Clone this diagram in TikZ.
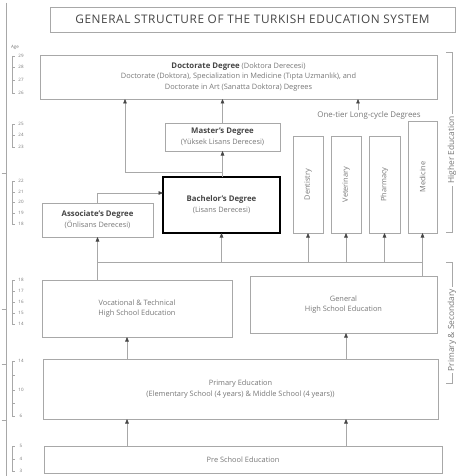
\documentclass[tikz,border=0pt]{standalone}
\usepackage{fontspec}
\setmainfont{Open Sans}
\usetikzlibrary{arrows.meta,calc}
\definecolor{ln}{HTML}{A8A8A8}
\definecolor{tx}{HTML}{787878}
\definecolor{dk}{HTML}{454545}
\newcommand{\hdtxt}[1]{{\fontsize{7.8}{10.8}\selectfont\bfseries\color{dk}#1}}
\begin{document}
\begin{tikzpicture}[x=1pt,y=-1pt,
  box/.style={draw=ln, line width=0.6pt, align=center, inner sep=0pt, outer sep=0pt, text=tx,
              font=\fontsize{7.4}{10.8}\selectfont},
  vbox/.style={box, rotate=90},
  arr/.style={draw=ln, line width=0.6pt, -{Triangle[length=4.5pt,width=3.6pt,color=dk]}},
  lnk/.style={draw=ln, line width=0.6pt},
  agelbl/.style={font=\fontsize{4.5}{5}\selectfont, text=tx, inner sep=0pt},
  side/.style={font=\fontsize{8.4}{10}\selectfont, text=tx, rotate=90, fill=white, inner sep=2pt}
]
\useasboundingbox (0,0) rectangle (466,476);
\fill[white] (0,0) rectangle (466,476);

% title
\node[draw=ln, line width=0.6pt, minimum width=405pt, minimum height=25pt, inner sep=0pt,
      font=\fontsize{11.8}{13}\selectfont\addfontfeatures{LetterSpace=5}, text=dk] (title) at (252.5,19.5)
      {GENERAL STRUCTURE OF THE TURKISH EDUCATION SYSTEM};

% boxes
\node[box, minimum width=397pt, minimum height=44pt] (doc) at (238.5,77)
  {\hdtxt{Doctorate Degree} (Doktora Derecesi)\\
   Doctorate (Doktora), Specialization in Medicine (Tıpta Uzmanlık), and\\
   Doctorate in Art (Sanatta Doktora) Degrees};
\node[box, minimum width=115pt, minimum height=28pt] (master) at (222.5,137)
  {\hdtxt{Master’s Degree}\\(Yüksek Lisans Derecesi)};
\node[box, draw=black, line width=1.5pt, minimum width=117pt, minimum height=56pt] (bach) at (221.5,205)
  {\hdtxt{Bachelor’s Degree}\\(Lisans Derecesi)};
\node[box, minimum width=111pt, minimum height=34pt] (assoc) at (97.5,220)
  {\hdtxt{Associate’s Degree}\\(Önlisans Derecesi)};

\node[vbox, minimum width=97pt, minimum height=30pt] (dent) at (308,184.5) {Dentistry};
\node[vbox, minimum width=97pt, minimum height=30pt] (vet) at (346,184.5) {Veterinary};
\node[vbox, minimum width=97pt, minimum height=31pt] (pharm) at (384.5,184.5) {Pharmacy};
\node[vbox, minimum width=112pt, minimum height=29pt] (med) at (422.5,177) {Medicine};
\node[font=\fontsize{7.9}{9}\selectfont, text=tx, inner sep=1pt] (lc) at (369,115.5) {One-tier Long-cycle Degrees};

\node[box, minimum width=190pt, minimum height=57pt] (voc) at (137,308.5)
  {Vocational \& Technical\\High School Education};
\node[box, minimum width=187pt, minimum height=57pt] (gen) at (343.5,304.5)
  {General\\High School Education};
\node[box, minimum width=395pt, minimum height=60pt] (prim) at (240.5,389)
  {Primary Education\\(Elementary School (4 years) \& Middle School (4 years))};
\node[box, minimum width=398pt, minimum height=27pt] (pre) at (243,459.5)
  {Pre School Education};

% connectors to doctorate
\draw[arr] (master.north) -- (master.north |- doc.south);
\draw[arr] ([xshift=-11pt]lc.north) -- ([xshift=-11pt]lc.north |- doc.south);
\coordinate (j) at (125,172);
\draw[arr] (j) -- (j |- doc.south);
\draw[lnk] (j) -- (j -| master.south);
\draw[arr] (bach.north -| master.south) -- (master.south);
\draw[arr] (assoc.north) |- ([yshift=12pt]bach.west);

% bus from high schools
\coordinate (bus) at (0,262);
\draw[lnk] (assoc.south |- voc.north) -- (assoc.south |- bus) -- (med.west |- bus) -- (med.west |- gen.north);
\draw[arr] (assoc.south |- bus) -- (assoc.south);
\draw[arr] (bach.south |- bus) -- (bach.south);
\draw[arr] (dent.west |- bus) -- (dent.west);
\draw[arr] (vet.west |- bus) -- (vet.west);
\draw[arr] (pharm.west |- bus) -- (pharm.west);
\draw[arr] (med.west |- bus) -- (med.west);

% lower arrows
\draw[arr] ([xshift=-10pt]voc.south |- prim.north) -- ([xshift=-10pt]voc.south);
\draw[arr] ([xshift=2.5pt]gen.south |- prim.north) -- ([xshift=2.5pt]gen.south);
\draw[arr] ([xshift=-10pt]voc.south |- pre.north) -- ([xshift=-10pt]voc.south |- prim.south);
\draw[arr] ([xshift=2.5pt]gen.south |- pre.north) -- ([xshift=2.5pt]gen.south |- prim.south);

% age axis
\draw[lnk] (6,3) -- (6,476);
\foreach \y in {173,309,364,420} { \draw[lnk] (1.5,\y) -- (6,\y); }
\node[agelbl] (age) at (15,47) {Age};
\draw[lnk, line width=0.4pt] (12,56) -- (12,93);
\foreach \y/\a in {56/29,67/28,80/27,93/26} { \draw[lnk, line width=0.4pt] (12,\y) -- (15,\y); \node[agelbl] (d\y) at (21,\y) {\a}; }
\draw[lnk, line width=0.4pt] (12,124) -- (12,147);
\foreach \y/\a in {124/25,135/24,147/23} { \draw[lnk, line width=0.4pt] (12,\y) -- (15,\y); \node[agelbl] (m\y) at (21,\y) {\a}; }
\draw[lnk, line width=0.4pt] (12,181) -- (12,224);
\foreach \y/\a in {181/22,192/21,202/20,213/19,224/18} { \draw[lnk, line width=0.4pt] (12,\y) -- (15,\y); \node[agelbl] (b\y) at (21,\y) {\a}; }
\draw[lnk, line width=0.4pt] (12,280) -- (12,324);
\foreach \y/\a in {280/18,291/17,302/16,313/15,324/14} { \draw[lnk, line width=0.4pt] (12,\y) -- (15,\y); \node[agelbl] (h\y) at (21,\y) {\a}; }
\draw[lnk, line width=0.4pt] (12,361) -- (12,416);
\foreach \y/\a in {361/14,390/10,416/6} { \draw[lnk, line width=0.4pt] (12,\y) -- (15,\y); \node[agelbl] (p\y) at (21,\y) {\a}; }
\foreach \y in {375,403} { \draw[lnk, line width=0.4pt] (12,\y) -- (15,\y); }
\draw[lnk, line width=0.4pt] (12,446) -- (12,471);
\foreach \y/\a in {446/5,459/4,471/3} { \draw[lnk, line width=0.4pt] (12,\y) -- (15,\y); \node[agelbl] (s\y) at (21,\y) {\a}; }

% side brackets
\draw[lnk] (446,52) -- (452,52) -- (452,232) -- (446,232);
\node[side] (he) at (452,150) {Higher Education};
\draw[lnk] (446,262) -- (452,262) -- (452,383) -- (446,383);
\node[side] (ps) at (452,330) {Primary \& Secondary};
\end{tikzpicture}
\end{document}
